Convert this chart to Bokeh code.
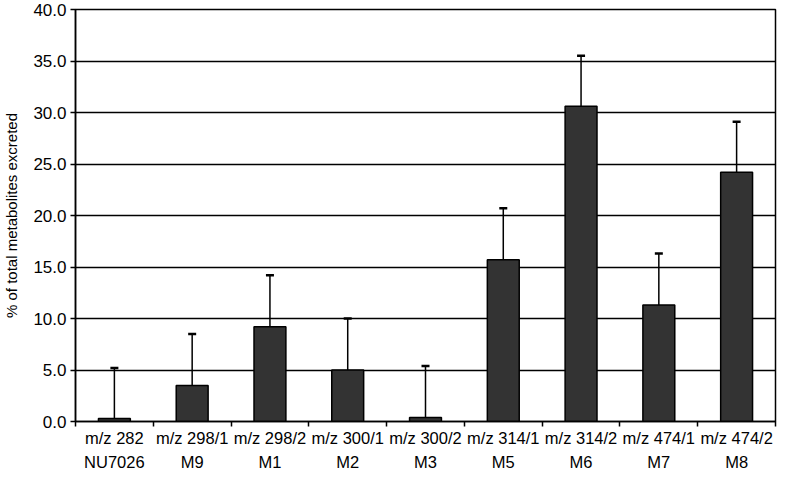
from bokeh.plotting import figure
from bokeh.models import ColumnDataSource, Whisker, TeeHead, FixedTicker, LinearAxis, Range1d, NumeralTickFormatter
from bokeh.embed import file_html
from bokeh.resources import INLINE

line1 = ["m/z 282", "m/z 298/1", "m/z 298/2", "m/z 300/1", "m/z 300/2",
         "m/z 314/1", "m/z 314/2", "m/z 474/1", "m/z 474/2"]
line2 = ["NU7026", "M9", "M1", "M2", "M3", "M5", "M6", "M7", "M8"]
values = [0.3, 3.5, 9.2, 5.0, 0.4, 15.7, 30.6, 11.3, 24.2]
errors = [4.9, 5.0, 5.0, 5.0, 5.0, 5.0, 4.9, 5.0, 4.9]
y_ticks = [0, 5, 10, 15, 20, 25, 30, 35, 40]

n = len(values)
xc = [i + 0.5 for i in range(n)]
bounds = list(range(n + 1))
upper = [v + e for v, e in zip(values, errors)]
src = ColumnDataSource(dict(x=xc, top=values, upper=upper))

FONT = "Liberation Sans"

p = figure(width=777, height=473, output_backend="svg", toolbar_location=None,
           x_range=Range1d(0, n), y_range=Range1d(0, 40),
           min_border_left=60, min_border_right=2, min_border_top=9, min_border_bottom=0,
           x_axis_location=None)
p.background_fill_color = "white"
p.border_fill_color = "white"
p.outline_line_color = "black"
p.outline_line_width = 1.5

p.vbar(x="x", top="top", bottom=0, width=0.41, source=src,
       fill_color="#333333", line_color="black", line_width=1.5)
w = Whisker(base="x", lower="top", upper="upper", source=src,
            line_color="black", line_width=1.5,
            upper_head=TeeHead(size=8, line_color="black", line_width=2.5),
            lower_head=None)
p.add_layout(w)

# y axis
p.yaxis.ticker = FixedTicker(ticks=y_ticks)
p.yaxis.formatter = NumeralTickFormatter(format="0.0")
p.yaxis.major_label_text_font = FONT
p.yaxis.major_label_text_font_size = "17px"
p.yaxis.major_label_text_color = "black"
p.yaxis.major_tick_out = 5
p.yaxis.major_tick_in = 0
p.yaxis.minor_tick_out = 0
p.yaxis.minor_tick_in = 0
p.yaxis.axis_line_width = 1.5
p.yaxis.axis_line_color = "black"
p.yaxis.major_tick_line_width = 1.5
p.yaxis.axis_label = "% of total metabolites excreted"
p.yaxis.axis_label_text_font = FONT
p.yaxis.axis_label_text_font_size = "15px"
p.yaxis.axis_label_text_font_style = "normal"
p.yaxis.axis_label_text_color = "black"
p.yaxis.axis_label_standoff = 10
p.yaxis.major_label_standoff = 4

p.ygrid.ticker = FixedTicker(ticks=y_ticks)
p.ygrid.grid_line_color = "black"
p.ygrid.grid_line_width = 1.4
p.xgrid.visible = False

# x axis: labels at category centres, minor ticks at category boundaries
ax = LinearAxis(ticker=FixedTicker(ticks=xc, minor_ticks=bounds))
ax.major_label_overrides = {x: f"{a}\n{b}" for x, a, b in zip(xc, line1, line2)}
ax.major_label_text_font = FONT
ax.major_label_text_font_size = "16.5px"
ax.major_label_text_color = "black"
ax.major_label_text_line_height = 1.35
ax.major_label_standoff = 2
ax.major_tick_out = 0
ax.major_tick_in = 0
ax.minor_tick_out = 5
ax.minor_tick_in = 0
ax.minor_tick_line_width = 1.5
ax.minor_tick_line_color = "black"
ax.axis_line_width = 1.5
ax.axis_line_color = "black"
p.add_layout(ax, "below")

open("out.html", "w").write(file_html(p, INLINE))
